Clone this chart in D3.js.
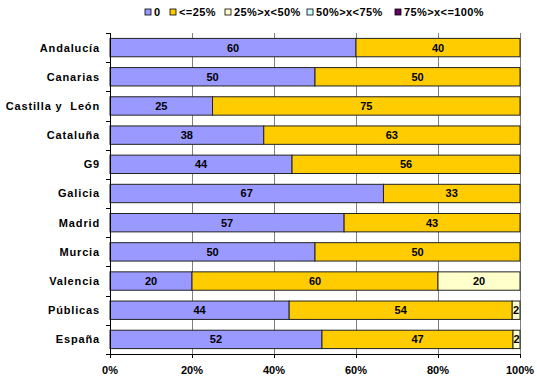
<!DOCTYPE html>
<html><head><meta charset="utf-8">
<script src="https://cdn.jsdelivr.net/npm/d3@7"></script>
<style>body{margin:0;background:#fff;} svg{display:block;font-family:"Liberation Sans",Arial,sans-serif;font-weight:bold;}</style>
</head><body><svg id="c" width="537" height="379"></svg>
<script>
const categories = ["Andalucía","Canarias","Castilla y  León","Cataluña","G9","Galicia","Madrid","Murcia","Valencia","Públicas","España"];
const seriesNames = ["0","<=25%","25%>x<50%","50%>x<75%","75%>x<=100%"];
const seriesColors = ["#9999FF","#FFCC00","#FFFFCC","#CCFFFF","#660066"];
const s0 = [60,50,25,37.5,44.4,66.7,57.1,50,20,43.7,51.7];
const s1 = [40,50,75,62.5,55.6,33.3,42.9,50,60,54.4,46.6];
const s2 = [0,0,0,0,0,0,0,0,20,1.9,1.7];
const s3 = [0,0,0,0,0,0,0,0,0,0,0];
const s4 = [0,0,0,0,0,0,0,0,0,0,0];
const xTicks = [0,20,40,60,80,100];

const svg = d3.select("#c");
const m = {l:110, r:520, t:33, b:354};
const x = d3.scaleLinear().domain([0,100]).range([m.l,m.r]);
const y = d3.scaleBand().domain(categories).range([m.t,m.b]).paddingInner(0.37).paddingOuter(0.185);
const yb = d3.scaleBand().domain(categories).range([m.t,m.b]);

const rows = categories.map((c,i)=>({cat:c, vals:[s0[i],s1[i],s2[i],s3[i],s4[i]]}));
const stack = d3.stack().keys([0,1,2,3,4]).value((d,k)=>d.vals[k]);
const layers = stack(rows);

// gridlines
svg.append("g").selectAll("line").data(xTicks.slice(1)).join("line")
  .attr("x1",d=>x(d)+0.5).attr("x2",d=>x(d)+0.5).attr("y1",m.t).attr("y2",m.b)
  .attr("stroke","#808080").attr("stroke-width",1);

// bars
const g = svg.append("g");
layers.forEach((L,k)=>{
  g.append("g").selectAll("rect").data(L.filter(d=>d[1]-d[0]>0)).join("rect")
    .attr("x",d=>x(d[0])).attr("width",d=>x(d[1])-x(d[0]))
    .attr("y",d=>y(d.data.cat)).attr("height",y.bandwidth())
    .attr("fill",seriesColors[k]).attr("stroke","#222").attr("stroke-width",1);
});
// labels
layers.forEach((L,k)=>{
  g.append("g").selectAll("text").data(L.filter(d=>d[1]-d[0]>0)).join("text")
    .attr("x",d=>(x(d[0])+x(d[1]))/2).attr("y",d=>y(d.data.cat)+y.bandwidth()/2)
    .attr("dy","0.36em").attr("text-anchor","middle").attr("font-size",11).attr("fill","#000")
    .text(d=>d3.format(".0f")(d[1]-d[0]));
});

// y axis
const ya = svg.append("g");
ya.append("line").attr("x1",m.l+0.5).attr("x2",m.l+0.5).attr("y1",m.t).attr("y2",m.b).attr("stroke","#000");
const bounds = categories.map(c=>yb(c)).concat([m.b]);
ya.selectAll("line.t").data(bounds).join("line").attr("class","t")
  .attr("x1",m.l-4).attr("x2",m.l).attr("y1",d=>Math.round(d)+0.5).attr("y2",d=>Math.round(d)+0.5).attr("stroke","#000");
ya.selectAll("text").data(categories).join("text")
  .attr("x",m.l-10).attr("y",d=>yb(d)+yb.bandwidth()/2).attr("dy","0.36em")
  .attr("text-anchor","end").attr("font-size",11).attr("letter-spacing","0.85px")
  .text(d=>d).style("white-space","pre");

// x axis
const xa = svg.append("g");
xa.append("line").attr("x1",m.l).attr("x2",m.r).attr("y1",m.b+0.5).attr("y2",m.b+0.5).attr("stroke","#000");
xa.selectAll("line.t").data(xTicks).join("line").attr("class","t")
  .attr("x1",d=>x(d)+0.5).attr("x2",d=>x(d)+0.5).attr("y1",m.b).attr("y2",m.b+4).attr("stroke","#000");
xa.selectAll("text").data(xTicks).join("text")
  .attr("x",d=>x(d)).attr("y",m.b+20).attr("text-anchor","middle").attr("font-size",11)
  .text(d=>d+"%");

// legend
const legX = [145,170,225,307,395];
const lg = svg.append("g");
seriesNames.forEach((n,i)=>{
  lg.append("rect").attr("x",legX[i]).attr("y",9).attr("width",6).attr("height",6)
    .attr("fill",seriesColors[i]).attr("stroke","#000").attr("stroke-width",0.8);
  lg.append("text").attr("x",legX[i]+9).attr("y",12).attr("dy","0.36em").attr("font-size",11)
    .attr("letter-spacing","0.4px").text(n);
});
</script></body></html>
